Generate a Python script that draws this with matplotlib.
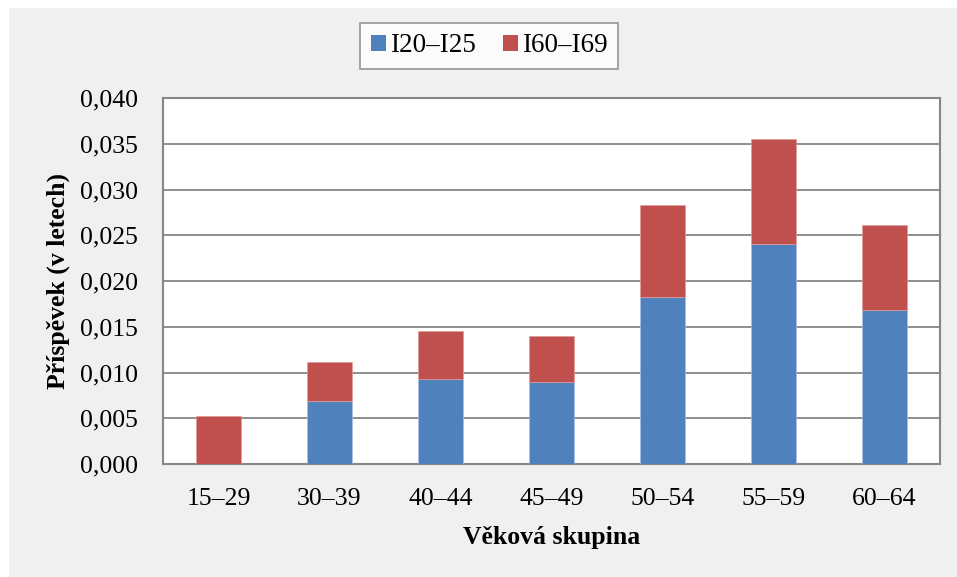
import matplotlib
matplotlib.use("Agg")
import matplotlib.pyplot as plt
from matplotlib.patches import Rectangle
import numpy as np

categories = ["15–29", "30–39", "40–44", "45–49", "50–54", "55–59", "60–64"]
i20_i25 = [0.0, 0.0069, 0.0093, 0.0090, 0.0183, 0.0240, 0.0168]
i60_i69 = [0.0053, 0.0043, 0.0052, 0.0050, 0.0100, 0.0115, 0.0093]
series_names = ["I20–I25", "I60–I69"]
yticks = [0.000, 0.005, 0.010, 0.015, 0.020, 0.025, 0.030, 0.035, 0.040]
ytick_labels = ["0,000", "0,005", "0,010", "0,015", "0,020", "0,025", "0,030", "0,035", "0,040"]

plt.rcParams['font.family'] = ['Liberation Serif', 'DejaVu Serif']

fig = plt.figure(figsize=(9.57, 5.77), dpi=100)
fig.patch.set_facecolor("white")
bg = Rectangle((9/957, 0), 1 - 9/957, 1 - 8/577, transform=fig.transFigure,
               facecolor="#f0f0f0", edgecolor="none", zorder=-10)
fig.patches.append(bg)

ax = fig.add_axes([163/957, (577-464)/577, (940-163)/957, (464-98)/577])
ax.set_facecolor("white")

x = np.arange(len(categories))
w = 0.4
blue = "#4F81BD"
red = "#C0504D"
ax.bar(x, i20_i25, w, color=blue, label=series_names[0], zorder=3,
       edgecolor="#a9c0e0", linewidth=0.5)
ax.bar(x, i60_i69, w, bottom=i20_i25, color=red, label=series_names[1], zorder=3,
       edgecolor="#e09a98", linewidth=0.5)

ax.set_xlim(-0.5, len(categories) - 0.5)
ax.set_ylim(0, 0.040)
ax.set_yticks(yticks)
ax.set_yticklabels(ytick_labels)
ax.set_xticks(x)
ax.set_xticklabels(categories)
ax.tick_params(axis='y', length=0, pad=18, labelsize=18.5)
ax.tick_params(axis='x', length=0, pad=17, labelsize=18.5)
ax.yaxis.grid(True, color="#868686", linewidth=1.3, zorder=0)
ax.set_axisbelow(True)
for s in ax.spines.values():
    s.set_color("#868686")
    s.set_linewidth(1.5)

ax.set_ylabel("Příspěvek (v letech)", fontsize=18.5, fontweight="bold", labelpad=7)
ax.set_xlabel("Věková skupina", fontsize=18.5, fontweight="bold", labelpad=12)

leg = fig.legend(loc="center", bbox_to_anchor=(489/957, 1 - 46/577), ncol=2,
                 fontsize=19.5, frameon=True, fancybox=False, shadow=False,
                 handlelength=0.55, handleheight=0.55, handletextpad=0.15,
                 columnspacing=1.0, borderpad=0.4, borderaxespad=0)
leg.get_frame().set_edgecolor("#868686")
leg.get_frame().set_linewidth(1.3)
leg.get_frame().set_facecolor("white")
for h in leg.legend_handles:
    h.set_edgecolor("none")

fig.savefig("out.png", dpi=100, facecolor=fig.get_facecolor())
